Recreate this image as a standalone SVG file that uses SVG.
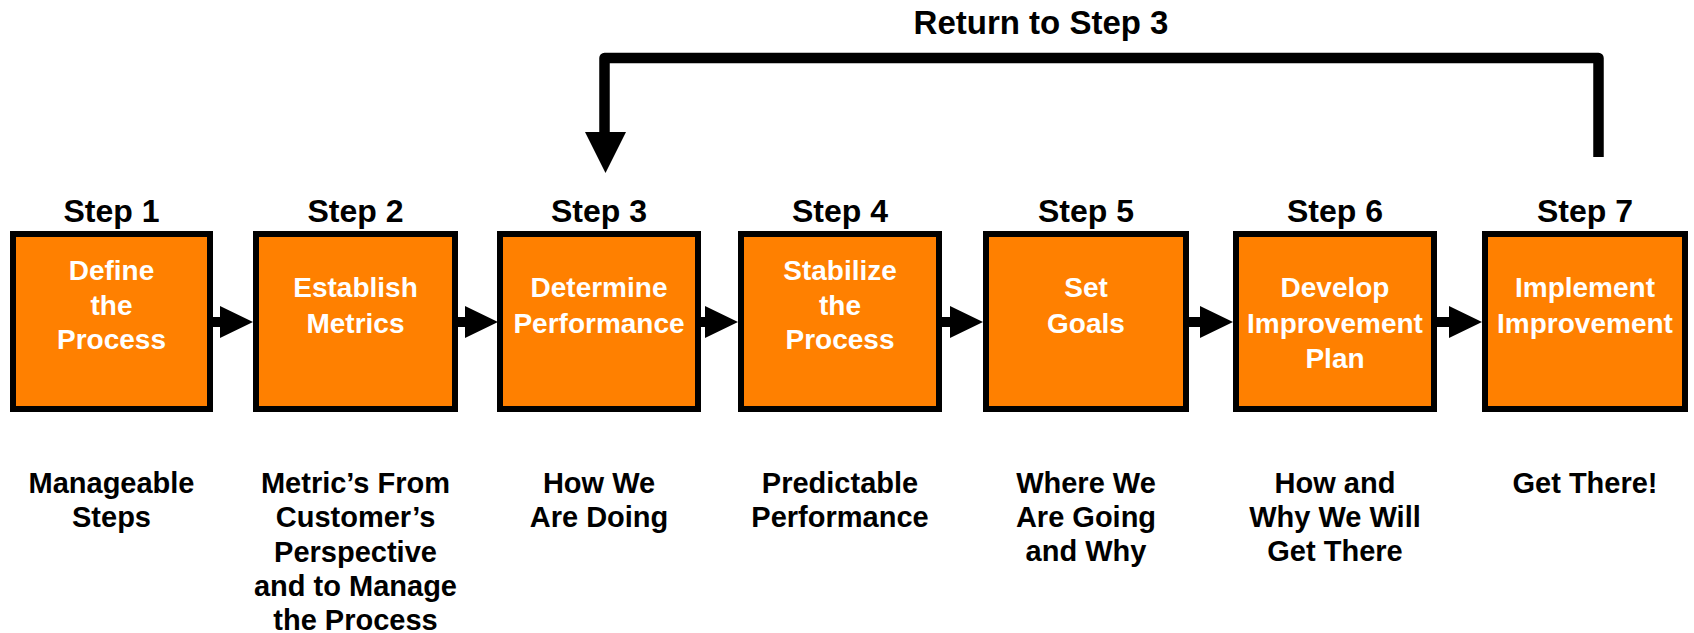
<svg xmlns="http://www.w3.org/2000/svg" width="1694" height="633" viewBox="0 0 1694 633">
<style>
.box{fill:#FF8000;stroke:#000;stroke-width:6}
.hd{font-family:"Liberation Sans",Arial,sans-serif;font-weight:bold;font-size:32px;fill:#000;text-anchor:middle}
.in{font-family:"Liberation Sans",Arial,sans-serif;font-weight:bold;font-size:28px;fill:#fff;text-anchor:middle}
.bt{font-family:"Liberation Sans",Arial,sans-serif;font-weight:bold;font-size:29px;fill:#000;text-anchor:middle}
.sh{stroke:#000;stroke-width:10;fill:none}
.hdarrow{fill:#000}
</style>
<rect width="1694" height="633" fill="#fff"/>
<g id="connectors">
  <path class="sh" d="M213 322H222"/><polygon class="hdarrow" points="220,306 220,338 253,322"/>
  <path class="sh" d="M458 322H467"/><polygon class="hdarrow" points="465,306 465,338 498,322"/>
  <path class="sh" d="M701 322H707"/><polygon class="hdarrow" points="705,306 705,338 738,322"/>
  <path class="sh" d="M942 322H952"/><polygon class="hdarrow" points="950,306 950,338 983,322"/>
  <path class="sh" d="M1189 322H1202"/><polygon class="hdarrow" points="1200,306 1200,338 1233,322"/>
  <path class="sh" d="M1437 322H1451"/><polygon class="hdarrow" points="1449,306 1449,338 1482,322"/>
  <g id="return-loop">
    <polyline points="1598.5,157 1598.5,58 604.5,58 604.5,134" fill="none" stroke="#000" stroke-width="10.5" stroke-linejoin="round"/>
    <polygon class="hdarrow" points="585,132 626,132 605.5,173"/>
    <text class="hd" x="1041" y="34" style="font-size:33px">Return to Step 3</text>
  </g>
</g>
<g id="step1">
  <text class="hd" x="111.5" y="222">Step 1</text>
  <rect class="box" x="13" y="234" width="197" height="175"/>
  <text class="in" x="111.5" y="280">Define</text>
  <text class="in" x="111.5" y="314.5">the</text>
  <text class="in" x="111.5" y="349">Process</text>
  <text class="bt" x="111.5" y="493">Manageable</text>
  <text class="bt" x="111.5" y="527">Steps</text>
</g>
<g id="step2">
  <text class="hd" x="355.5" y="222">Step 2</text>
  <rect class="box" x="256" y="234" width="199" height="175"/>
  <text class="in" x="355.5" y="297">Establish</text>
  <text class="in" x="355.5" y="333">Metrics</text>
  <text class="bt" x="355.5" y="493">Metric’s From</text>
  <text class="bt" x="355.5" y="527.3">Customer’s</text>
  <text class="bt" x="355.5" y="561.6">Perspective</text>
  <text class="bt" x="355.5" y="595.9">and to Manage</text>
  <text class="bt" x="355.5" y="630.2">the Process</text>
</g>
<g id="step3">
  <text class="hd" x="599" y="222">Step 3</text>
  <rect class="box" x="500" y="234" width="198" height="175"/>
  <text class="in" x="599" y="297">Determine</text>
  <text class="in" x="599" y="333">Performance</text>
  <text class="bt" x="599" y="493">How We</text>
  <text class="bt" x="599" y="527">Are Doing</text>
</g>
<g id="step4">
  <text class="hd" x="840" y="222">Step 4</text>
  <rect class="box" x="741" y="234" width="198" height="175"/>
  <text class="in" x="840" y="280">Stabilize</text>
  <text class="in" x="840" y="314.5">the</text>
  <text class="in" x="840" y="349">Process</text>
  <text class="bt" x="840" y="493">Predictable</text>
  <text class="bt" x="840" y="527">Performance</text>
</g>
<g id="step5">
  <text class="hd" x="1086" y="222">Step 5</text>
  <rect class="box" x="986" y="234" width="200" height="175"/>
  <text class="in" x="1086" y="297">Set</text>
  <text class="in" x="1086" y="333">Goals</text>
  <text class="bt" x="1086" y="493">Where We</text>
  <text class="bt" x="1086" y="527">Are Going</text>
  <text class="bt" x="1086" y="561">and Why</text>
</g>
<g id="step6">
  <text class="hd" x="1335" y="222">Step 6</text>
  <rect class="box" x="1236" y="234" width="198" height="175"/>
  <text class="in" x="1335" y="297">Develop</text>
  <text class="in" x="1335" y="333">Improvement</text>
  <text class="in" x="1335" y="367.5">Plan</text>
  <text class="bt" x="1335" y="493">How and</text>
  <text class="bt" x="1335" y="527">Why We Will</text>
  <text class="bt" x="1335" y="561">Get There</text>
</g>
<g id="step7">
  <text class="hd" x="1585" y="222">Step 7</text>
  <rect class="box" x="1485" y="234" width="200" height="175"/>
  <text class="in" x="1585" y="297">Implement</text>
  <text class="in" x="1585" y="333">Improvement</text>
  <text class="bt" x="1585" y="493">Get There!</text>
</g>
</svg>
